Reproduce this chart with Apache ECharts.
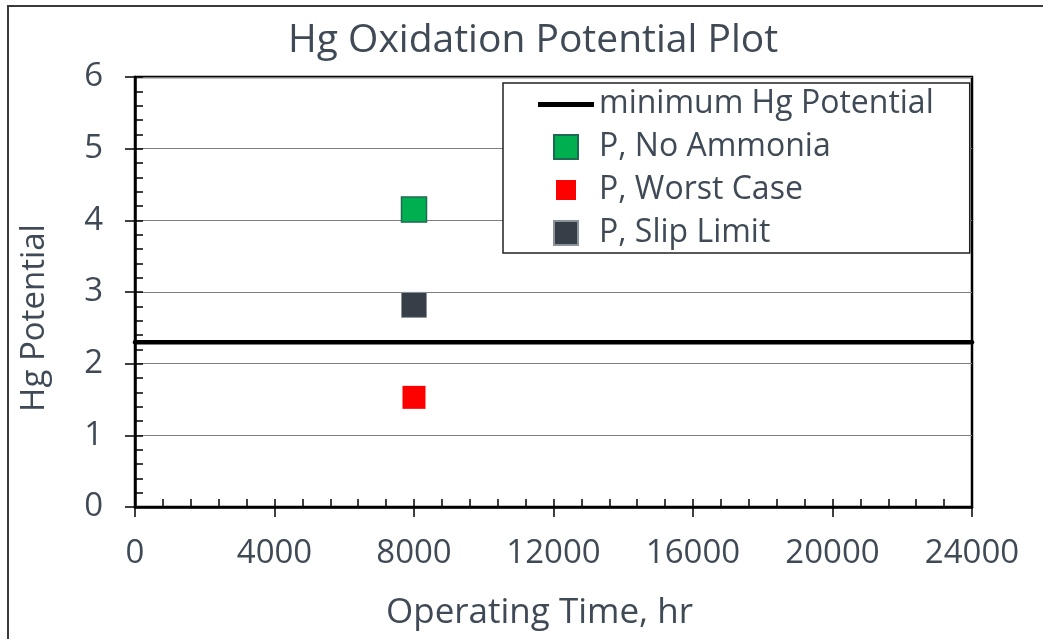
<!DOCTYPE html>
<html>
<head>
<meta charset="utf-8">
<script src="https://cdn.jsdelivr.net/npm/echarts@6/dist/echarts.min.js"></script>
<style>
html,body{margin:0;padding:0;background:#fff;overflow:hidden;}
#frame{position:absolute;left:7px;top:5px;width:1200px;height:800px;border:2px solid #3a3a3a;box-sizing:border-box;}
#chart{position:absolute;left:0;top:0;width:1043px;height:639px;}
</style>
</head>
<body>
<div id="frame"></div>
<div id="chart"></div>
<script>
// ---- data ----
var titleText = 'Hg Oxidation Potential Plot';
var xAxisTitle = 'Operating Time, hr';
var yAxisTitle = 'Hg Potential';
var seriesNames = ['minimum Hg Potential', 'P, No Ammonia', 'P, Worst Case', 'P, Slip Limit'];
var minLineX = [0, 24000];
var minLineY = [2.3, 2.3];
var noAmmonia = [[8000, 4.15]];
var worstCase = [[8000, 1.53]];
var slipLimit = [[8000, 2.82]];
var xRange = [0, 24000, 4000];
var yRange = [0, 6, 1];

var FONT = 'Open Sans';
var TXT = '#3f4a56';

var chart = echarts.init(document.getElementById('chart'));
var gridRect = {left: 135, top: 77, right: 71, bottom: 132};

var option = {
  animation: false,
  backgroundColor: 'transparent',
  title: {
    text: titleText,
    left: 283, top: 16,
    textStyle: {fontFamily: FONT, fontSize: 39, fontWeight: 'normal', color: TXT}
  },
  legend: {
    orient: 'vertical',
    left: 503, top: 83,
    padding: [5, 36, 4, 34],
    itemGap: 11,
    itemWidth: 56, itemHeight: 24,
    align: 'left',
    backgroundColor: '#fff',
    borderColor: '#222', borderWidth: 1.5,
    textStyle: {fontFamily: FONT, fontSize: 32, color: TXT, lineHeight: 30},
    data: [
      {name: seriesNames[0], icon: 'path://M0,0M56,24M0,10h56v5h-56z', itemStyle: {color: '#000'}},
      {name: seriesNames[1], icon: 'path://M0,0M56,24M16,0h24v24h-24z'},
      {name: seriesNames[2], icon: 'path://M0,0M56,24M18,2h20v20h-20z'},
      {name: seriesNames[3], icon: 'path://M0,0M56,24M16,0h24v24h-24z'}
    ]
  },
  grid: [
    Object.assign({show: true, borderColor: '#000', borderWidth: 2.5, backgroundColor: 'transparent'}, gridRect),
    Object.assign({show: false}, gridRect)
  ],
  xAxis: [
    {
      type: 'value', gridIndex: 0,
      min: xRange[0], max: xRange[1], interval: xRange[2],
      name: xAxisTitle, nameLocation: 'middle', nameGap: 89,
      nameTextStyle: {fontFamily: FONT, fontSize: 35, color: TXT, padding: [0, 28, 0, 0]},
      axisLine: {show: true, lineStyle: {color: '#000', width: 2.5}},
      axisTick: {show: true, inside: false, length: 10, lineStyle: {color: '#000', width: 1.5}},
      axisLabel: {fontFamily: FONT, fontSize: 33, color: TXT, margin: 30, formatter: function (v) { return String(v); }},
      splitLine: {show: false}
    },
    {
      type: 'value', gridIndex: 1,
      min: xRange[0], max: xRange[1], interval: 800,
      axisLine: {show: false},
      axisTick: {show: true, inside: true, length: 8, lineStyle: {color: '#000', width: 1.5}},
      axisLabel: {show: false},
      splitLine: {show: false}
    }
  ],
  yAxis: [
    {
      type: 'value', gridIndex: 0,
      min: yRange[0], max: yRange[1], interval: yRange[2],
      name: yAxisTitle, nameLocation: 'middle', nameGap: 84,
      nameTextStyle: {fontFamily: FONT, fontSize: 33, color: TXT, padding: [0, 52, 0, 0]},
      axisLine: {show: true, lineStyle: {color: '#000', width: 2.5}},
      axisTick: {show: true, inside: false, length: 10, lineStyle: {color: '#000', width: 1.5}},
      axisLabel: {fontFamily: FONT, fontSize: 33, color: TXT, margin: 32},
      splitLine: {show: true, lineStyle: {color: '#7f7f7f', width: 1.2}}
    },
    {
      type: 'value', gridIndex: 1,
      min: yRange[0], max: yRange[1], interval: 0.2,
      axisLine: {show: false},
      axisTick: {show: true, inside: true, length: 8, lineStyle: {color: '#000', width: 1.5}},
      axisLabel: {show: false},
      splitLine: {show: false}
    }
  ],
  series: [
    {
      name: seriesNames[0], type: 'line', xAxisIndex: 0, yAxisIndex: 0,
      data: minLineX.map(function (x, i) { return [x, minLineY[i]]; }),
      symbol: 'none', showSymbol: false,
      lineStyle: {color: '#000', width: 4.5, cap: 'round'},
      itemStyle: {color: '#000'},
      z: 3
    },
    {
      name: seriesNames[1], type: 'scatter', xAxisIndex: 0, yAxisIndex: 0,
      data: noAmmonia, symbol: 'rect', symbolSize: 25,
      itemStyle: {color: '#00b050', borderColor: '#1d6a52', borderWidth: 1.5, opacity: 1},
      z: 4
    },
    {
      name: seriesNames[2], type: 'scatter', xAxisIndex: 0, yAxisIndex: 0,
      data: worstCase, symbol: 'rect', symbolSize: 23,
      itemStyle: {color: '#ff0000', opacity: 1},
      z: 4
    },
    {
      name: seriesNames[3], type: 'scatter', xAxisIndex: 0, yAxisIndex: 0,
      data: slipLimit, symbol: 'rect', symbolSize: 25,
      itemStyle: {color: '#363e48', borderColor: '#8c939b', borderWidth: 1, opacity: 1},
      z: 4
    }
  ]
};
chart.setOption(option);
</script>
</body>
</html>
